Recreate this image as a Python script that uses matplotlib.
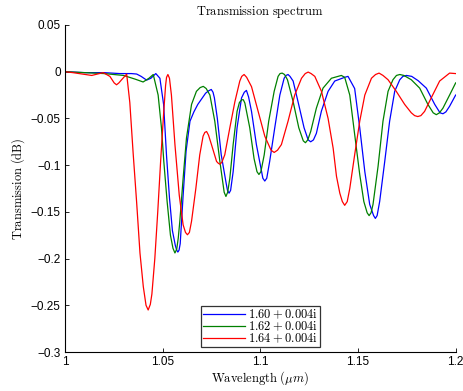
import matplotlib
matplotlib.use("Agg")
import matplotlib.pyplot as plt
from matplotlib.ticker import FuncFormatter

# Transmission (dB) versus wavelength (um) for three complex refractive indices
labels = ["1.60+0.004i", "1.62+0.004i", "1.64+0.004i"]
colors = ["#0000ff", "#008000", "#ff0000"]

wl_blue = [1.000, 1.010, 1.020, 1.028, 1.034, 1.0367, 1.039, 1.0418, 1.044, 1.0465,
           1.0486, 1.0505, 1.052, 1.0535, 1.055, 1.0565, 1.0572, 1.0578, 1.0584, 1.059,
           1.0605, 1.062, 1.064, 1.066, 1.068, 1.070, 1.072, 1.0735, 1.0749, 1.0758,
           1.0765, 1.078, 1.080, 1.0824, 1.0832, 1.084, 1.0848, 1.0861, 1.0881, 1.0904,
           1.0918, 1.0929, 1.094, 1.0955, 1.098, 1.1003, 1.1013, 1.1023, 1.1033, 1.1048,
           1.1074, 1.1100, 1.1122, 1.1132, 1.1142, 1.1152, 1.1168, 1.1193, 1.1224, 1.1245,
           1.1258, 1.1272, 1.1287, 1.1313, 1.1347, 1.1381, 1.1432, 1.1449, 1.1483, 1.1509,
           1.1535, 1.156, 1.158, 1.1589, 1.1598, 1.1611, 1.1637, 1.1662, 1.1688, 1.1714,
           1.173, 1.1748, 1.1775, 1.1808, 1.1850, 1.1893, 1.192, 1.1935, 1.195, 1.1969,
           1.2]
t_blue = [0.000, -0.001, -0.001, -0.002, -0.002, -0.0025, -0.005, -0.009, -0.007, -0.002,
          -0.007, -0.035, -0.090, -0.135, -0.170, -0.186, -0.191, -0.193, -0.191, -0.184,
          -0.132, -0.085, -0.053, -0.043, -0.035, -0.029, -0.023, -0.0205, -0.019, -0.022,
          -0.028, -0.050, -0.089, -0.118, -0.127, -0.130, -0.127, -0.107, -0.060, -0.028,
          -0.022, -0.020, -0.027, -0.0425, -0.078, -0.103, -0.114, -0.117, -0.114, -0.096,
          -0.060, -0.025, -0.007, -0.004, -0.003, -0.005, -0.010, -0.032, -0.060, -0.073,
          -0.075, -0.073, -0.066, -0.042, -0.021, -0.010, -0.006, -0.005, -0.018, -0.060,
          -0.107, -0.142, -0.154, -0.157, -0.154, -0.139, -0.096, -0.053, -0.021, -0.0086,
          -0.005, -0.004, -0.005, -0.0096, -0.0176, -0.035, -0.044, -0.045, -0.043, -0.037,
          -0.025]

wl_green = [1.000, 1.010, 1.020, 1.030, 1.036, 1.0400, 1.043, 1.0452, 1.0477, 1.0494,
            1.0506, 1.0523, 1.054, 1.0553, 1.0563, 1.0572, 1.058, 1.0588, 1.0605, 1.0622,
            1.0648, 1.0673, 1.0692, 1.0708, 1.0723, 1.0742, 1.0767, 1.0793, 1.0815, 1.0824,
            1.0833, 1.0844, 1.0861, 1.0881, 1.0893, 1.0905, 1.0913, 1.0921, 1.0946, 1.0968,
            1.0983, 1.0993, 1.1003, 1.1020, 1.1043, 1.1071, 1.1091, 1.1101, 1.1112, 1.1124,
            1.1139, 1.1168, 1.1197, 1.122, 1.1231, 1.1243, 1.1258, 1.1287, 1.1321, 1.1364,
            1.1415, 1.1432, 1.1458, 1.1483, 1.1509, 1.153, 1.1547, 1.1557, 1.1567, 1.1577,
            1.1603, 1.1628, 1.1654, 1.1679, 1.1697, 1.1714, 1.1735, 1.1773, 1.1816, 1.1858,
            1.1885, 1.1901, 1.1917, 1.1935, 1.1969, 1.2]
t_green = [0.000, -0.001, -0.002, -0.004, -0.008, -0.011, -0.007, -0.003, -0.025, -0.060,
           -0.096, -0.139, -0.175, -0.189, -0.194, -0.190, -0.178, -0.160, -0.114, -0.071,
           -0.035, -0.021, -0.017, -0.0157, -0.018, -0.025, -0.053, -0.096, -0.129, -0.1335,
           -0.129, -0.114, -0.078, -0.0425, -0.033, -0.030, -0.030, -0.0336, -0.060, -0.093,
           -0.107, -0.110, -0.107, -0.089, -0.053, -0.021, -0.005, -0.002, -0.0015, -0.003,
           -0.0086, -0.032, -0.060, -0.074, -0.076, -0.073, -0.064, -0.039, -0.0176, -0.007,
           -0.004, -0.006, -0.025, -0.067, -0.110, -0.139, -0.151, -0.154, -0.151, -0.142,
           -0.101, -0.053, -0.021, -0.0086, -0.004, -0.003, -0.004, -0.0086, -0.0176, -0.035,
           -0.044, -0.046, -0.044, -0.039, -0.025, -0.012]

wl_red = [1.000, 1.004, 1.0137, 1.0196, 1.023, 1.0252, 1.0264, 1.0276, 1.029, 1.0316,
          1.0332, 1.0349, 1.0367, 1.0384, 1.0401, 1.0415, 1.0426, 1.0437, 1.0445, 1.046,
          1.0475, 1.049, 1.0505, 1.0515, 1.052, 1.0527, 1.0535, 1.0545, 1.0563, 1.0585,
          1.0605, 1.0617, 1.0627, 1.0637, 1.0648, 1.067, 1.069, 1.0707, 1.0716, 1.0725,
          1.0735, 1.075, 1.0776, 1.0785, 1.0793, 1.0803, 1.0818, 1.0844, 1.087, 1.0895,
          1.0905, 1.0917, 1.093, 1.0955, 1.0989, 1.1023, 1.1055, 1.1071, 1.1088, 1.1108,
          1.1142, 1.1176, 1.1211, 1.123, 1.1245, 1.126, 1.1279, 1.1313, 1.1347, 1.1373,
          1.139, 1.1407, 1.142, 1.1432, 1.1445, 1.1458, 1.1483, 1.1509, 1.1535, 1.1569,
          1.159, 1.1608, 1.1628, 1.1654, 1.1696, 1.1739, 1.1773, 1.179, 1.1806, 1.1822,
          1.1841, 1.1875, 1.1918, 1.1969, 1.2]
t_red = [0.000, -0.001, -0.004, -0.001, -0.005, -0.012, -0.014, -0.012, -0.0086, -0.0026,
         -0.033, -0.087, -0.140, -0.194, -0.230, -0.250, -0.255, -0.249, -0.238, -0.200,
         -0.150, -0.095, -0.045, -0.015, -0.006, -0.003, -0.007, -0.025, -0.078, -0.132,
         -0.164, -0.172, -0.1745, -0.172, -0.160, -0.125, -0.089, -0.069, -0.065, -0.064,
         -0.068, -0.078, -0.096, -0.098, -0.099, -0.097, -0.089, -0.060, -0.032, -0.010,
         -0.005, -0.003, -0.006, -0.016, -0.0425, -0.069, -0.084, -0.0864, -0.084, -0.078,
         -0.053, -0.025, -0.007, -0.002, -0.0004, -0.002, -0.005, -0.021, -0.050, -0.082,
         -0.112, -0.130, -0.139, -0.143, -0.139, -0.125, -0.089, -0.053, -0.025, -0.007,
         -0.003, -0.0015, -0.004, -0.0086, -0.021, -0.035, -0.044, -0.047, -0.048, -0.047,
         -0.0425, -0.028, -0.010, -0.0015, -0.002]

x_ticks = [1.0, 1.05, 1.1, 1.15, 1.2]
y_ticks = [0.05, 0.0, -0.05, -0.1, -0.15, -0.2, -0.25, -0.3]

plt.rcParams["mathtext.fontset"] = "cm"
plt.rcParams["font.family"] = ["Liberation Sans", "DejaVu Sans"]

fig = plt.figure(figsize=(4.64, 3.91), dpi=100)
ax = fig.add_axes([0.140, 0.0997, 0.842, 0.8364])

series = [(wl_blue, t_blue), (wl_green, t_green), (wl_red, t_red)]
for (x, y), c, lab in zip(series, colors, labels):
    ax.plot(x, y, color=c, lw=0.9, label=r"$\mathrm{" + lab + "}$")

ax.set_xlim(1.0, 1.2)
ax.set_ylim(-0.3, 0.05)
ax.set_xticks(x_ticks)
ax.set_yticks(y_ticks)
fmt = FuncFormatter(lambda v, p: ("%g" % round(v, 4)).replace("-", "\u2212"))
ax.xaxis.set_major_formatter(fmt)
ax.yaxis.set_major_formatter(fmt)
ax.tick_params(direction="in", length=3, width=0.6, labelsize=8.5, pad=3)

for side in ("top", "right"):
    ax.spines[side].set_visible(False)
for side in ("left", "bottom"):
    ax.spines[side].set_linewidth(0.8)

ax.set_title(r"$\mathrm{Transmission\ spectrum}$", fontsize=9, pad=7)
ax.set_xlabel(r"$\mathrm{Wavelength\ (}\mu m\mathrm{)}$", fontsize=9, labelpad=1)
ax.set_ylabel(r"$\mathrm{Transmission\ (dB)}$", fontsize=9, labelpad=3)

leg = ax.legend(loc="lower center", bbox_to_anchor=(0.5, 0.014), borderaxespad=0,
                fontsize=9, frameon=True, fancybox=False, handlelength=3.4,
                handletextpad=0.25, labelspacing=-0.12, borderpad=0.15)
leg.get_frame().set_edgecolor("black")
leg.get_frame().set_linewidth(0.9)

fig.savefig("out.png", dpi=100)
